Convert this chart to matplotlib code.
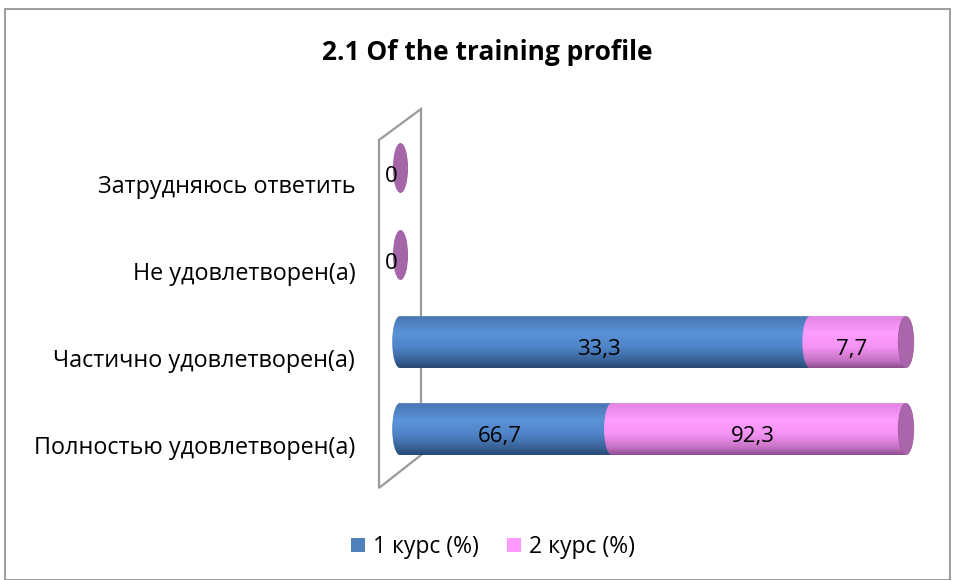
import matplotlib
matplotlib.use("Agg")
import matplotlib.pyplot as plt
import numpy as np
from matplotlib.patches import Ellipse, Polygon, Rectangle, Patch
from matplotlib.colors import LinearSegmentedColormap
import matplotlib.transforms as mtransforms

plt.rcParams['font.family'] = ['Open Sans', 'DejaVu Sans']

categories = ["Полностью удовлетворен(а)", "Частично удовлетворен(а)",
              "Не удовлетворен(а)", "Затрудняюсь ответить"]
series_names = ["1 курс (%)", "2 курс (%)"]
course1 = [66.7, 33.3, 0, 0]
course2 = [92.3, 7.7, 0, 0]
value_labels1 = ["66,7", "33,3", "0", "0"]
value_labels2 = ["92,3", "7,7", "0", "0"]
title = "2.1 Of the training profile"

W, H = 955, 580
fig = plt.figure(figsize=(W / 100, H / 100), dpi=100)

def px(x, y):
    return (x / W, 1 - y / H)

# outer border
fig.add_artist(Rectangle(px(5, 580), (950 - 5) / W, (580 - 8.5) / H,
                         transform=fig.transFigure, fill=False,
                         edgecolor="#8c8c8c", lw=1.2, zorder=-5))

# axes placement: x 0->400px, 100->905px ; y centers 429,342,255,168
xlo, xhi = -2, 102
ppu = (905 - 400) / 100
left_px = 400 + xlo * ppu
right_px = 905 + (xhi - 100) * ppu
ylo, yhi = -0.6, 3.6
ystep = 87
bot_px = 429 - ylo * ystep
top_px = 168 - (yhi - 3) * ystep
ax = fig.add_axes([left_px / W, 1 - bot_px / H, (right_px - left_px) / W,
                   (bot_px - top_px) / H])
ax.set_xlim(xlo, xhi)
ax.set_ylim(ylo, yhi)
ax.patch.set_visible(False)
for s in ax.spines.values():
    s.set_visible(False)
ax.set_xticks([])

# 3D wall
wall = Polygon([px(379, 140), px(421, 109), px(421, 455), px(379, 488)],
               closed=True, transform=fig.transFigure, fill=False,
               edgecolor="#9a9a9a", lw=1.6, zorder=-1)
fig.add_artist(wall)

c1 = np.array(course1)
c2 = np.array(course2)
tot = c1 + c2
tot_safe = np.where(tot == 0, 1, tot)
p1 = np.where(tot == 0, 0, c1 / tot_safe * 100)
p2 = np.where(tot == 0, 0, c2 / tot_safe * 100)
y = np.arange(len(categories))
bh = 0.6

blue_cmap = LinearSegmentedColormap.from_list("b", [
    (0.0, "#7d95ba"), (0.05, "#4a78b6"), (0.35, "#5b93d8"),
    (0.6, "#4f85c8"), (0.85, "#3a6399"), (1.0, "#284a74")])
pink_cmap = LinearSegmentedColormap.from_list("p", [
    (0.0, "#d9a0d9"), (0.05, "#e585e5"), (0.35, "#ff9eff"),
    (0.6, "#f593f5"), (0.85, "#c673c6"), (1.0, "#8e4f8e")])
cap_color = "#a966aa"
cap_w = 3.1

grad = np.linspace(0, 1, 256).reshape(-1, 1)

def shade(patch, cmap, yc, z):
    im = ax.imshow(grad, cmap=cmap, aspect="auto",
                   extent=(xlo, xhi, yc - bh / 2, yc + bh / 2),
                   origin="upper", zorder=z, interpolation="bilinear")
    im.set_clip_path(patch)

bars1 = ax.barh(y, p1, height=bh, left=0, color="#4f81bd", zorder=2,
                label=series_names[0])
bars2 = ax.barh(y, p2, height=bh, left=p1, color="#ff99ff", zorder=3,
                label=series_names[1])

lab_fs = 16
lab_dy = -0.085
lab_dx = -1.2
for i in range(len(categories)):
    yc = y[i]
    if tot[i] == 0:
        e = Ellipse((0.1, yc), 3.0, 0.575, facecolor="#a565a9",
                    edgecolor="none", zorder=5)
        ax.add_patch(e)
        ax.text(-1.8, yc - 0.095, value_labels2[i], ha="center", va="center",
                fontsize=lab_fs, zorder=6)
        continue
    # blue body + left cap
    b = bars1[i]
    shade(b, blue_cmap, yc, 2.1)
    lc = Ellipse((0, yc), cap_w, bh, facecolor="none", edgecolor="none",
                 zorder=2.05)
    ax.add_patch(lc)
    shade(lc, blue_cmap, yc, 2.05)
    # pink body with left rounded edge
    pb = bars2[i]
    shade(pb, pink_cmap, yc, 3.1)
    pl = Ellipse((p1[i], yc), cap_w, bh, facecolor="none", edgecolor="none",
                 zorder=3.05)
    ax.add_patch(pl)
    shade(pl, pink_cmap, yc, 3.05)
    # right end cap
    rc = Ellipse((100.2, yc), cap_w, bh * 0.98, facecolor=cap_color,
                 edgecolor="#9a5a9a", lw=0.5, zorder=4)
    ax.add_patch(rc)
    # labels
    ax.text(p1[i] / 2 + lab_dx, yc + lab_dy, value_labels1[i], ha="center",
            va="center", fontsize=lab_fs, zorder=6)
    ax.text(p1[i] + p2[i] / 2 + lab_dx, yc + lab_dy, value_labels2[i],
            ha="center", va="center", fontsize=lab_fs, zorder=6)

ax.set_yticks(y)
ax.set_yticklabels(categories, fontsize=16.8)
ax.tick_params(axis="y", length=0, pad=25)
off = mtransforms.ScaledTranslation(0, -16 / 100, fig.dpi_scale_trans)
for lab in ax.get_yticklabels():
    lab.set_transform(lab.get_transform() + off)

fig.text(487 / W, 1 - 52 / H, title, ha="center", va="center",
         fontsize=19, fontweight="bold")

handles = [Patch(facecolor="#4f81bd", edgecolor="none"),
           Patch(facecolor="#ff99ff", edgecolor="none")]
fig.legend(handles, series_names, loc="center", bbox_to_anchor=px(493, 547),
           ncol=2, frameon=False, fontsize=16.5, handlelength=0.6,
           handleheight=0.6, handletextpad=0.35, columnspacing=1.25)

fig.savefig("out.png", dpi=100)
